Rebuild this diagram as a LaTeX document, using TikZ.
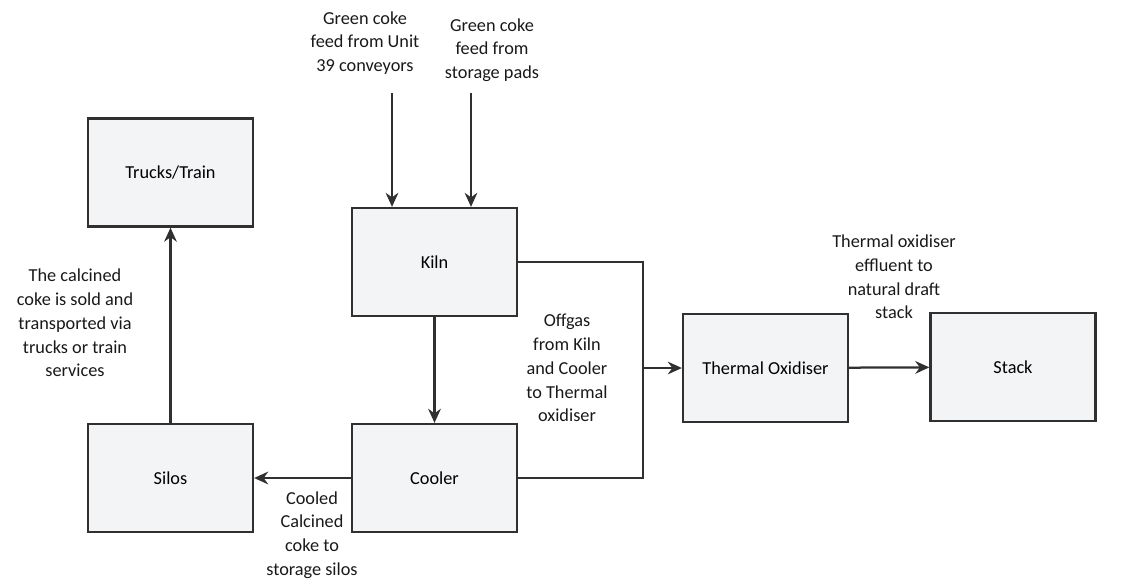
\documentclass[tikz,border=0pt]{standalone}
\usepackage{fontspec}
\setmainfont{Carlito}
\usetikzlibrary{arrows.meta}

\definecolor{boxfill}{HTML}{F3F4F6}
\definecolor{inkline}{HTML}{303030}

\tikzset{
  unit/.style={draw=inkline, line width=1.6pt, fill=boxfill,
    minimum width=4.125cm, minimum height=2.7cm, font=\fontsize{13}{15}\selectfont},
  flow/.style={draw=inkline, line width=1.6pt, -{Stealth[length=10pt,width=9pt]}},
  pipe/.style={draw=inkline, line width=1.6pt},
  note/.style={align=center, text=black!90, font=\fontsize{13}{16.9}\selectfont}
}

\begin{document}
\begin{tikzpicture}[x=0.025cm, y=-0.025cm]
  \useasboundingbox (0,0) rectangle (1125,587);

  % process units
  \node[unit] (trucks) at (170.5,172.5) {Trucks/Train};
  \node[unit] (silos)  at (170.5,478)   {Silos};
  \node[unit] (kiln)   at (434.5,262)   {Kiln};
  \node[unit] (cooler) at (434.5,478)   {Cooler};
  \node[unit] (oxid)   at (765.5,368)   {Thermal Oxidiser};
  \node[unit] (stack)  at (1013,367)    {Stack};

  % feeds
  \coordinate (feedA) at (392,93);
  \coordinate (feedB) at (471,93);
  \coordinate (join)  at (643,368);

  \draw[flow] (feedA) -- (feedA |- kiln.north);
  \draw[flow] (feedB) -- (feedB |- kiln.north);
  \draw[flow] (kiln) -- (cooler);
  \draw[pipe] (kiln.east) -| (join) |- (cooler.east);
  \draw[flow] (join) -- (oxid.west);
  \draw[flow] (oxid) -- (stack);
  \draw[flow] (cooler) -- (silos);
  \draw[flow] (silos) -- (trucks);

  % labels
  \node[note] (feedAtxt) at (365,43) {Green coke\\feed from Unit\\39 conveyors};
  \node[note] (feedBtxt) at (492,50) {Green coke\\feed from\\storage pads};
  \node[note] (offtxt)   at (567,368) {Offgas\\from Kiln\\and Cooler\\to Thermal\\oxidiser};
  \node[note] (efftxt)   at (894,277) {Thermal oxidiser\\effluent to\\natural draft\\stack};
  \node[note] (soldtxt)  at (75,323) {The calcined\\coke is sold and\\transported via\\trucks or train\\services};
  \node[note] (cooltxt)  at (312,535) {Cooled\\Calcined\\coke to\\storage silos};
\end{tikzpicture}
\end{document}
